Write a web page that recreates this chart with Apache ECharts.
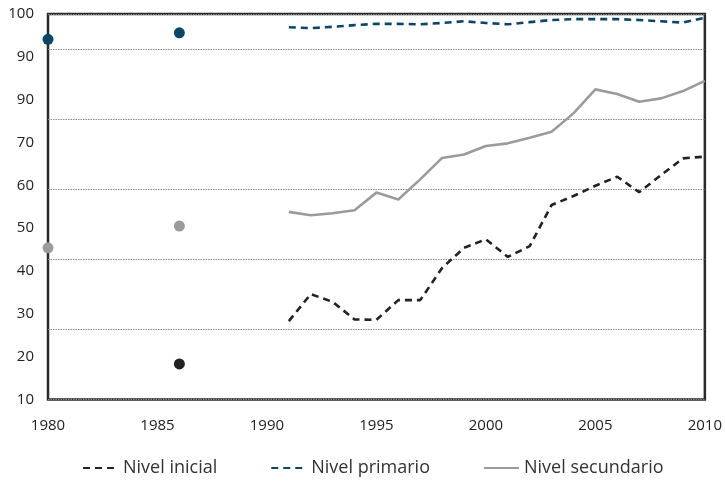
<!DOCTYPE html>
<html><head><meta charset="utf-8">
<script src="https://cdn.jsdelivr.net/npm/echarts@6/dist/echarts.min.js"></script>
<style>html,body{margin:0;padding:0;background:#fff}#c{width:725px;height:484px}</style>
</head><body><div id="c"></div>
<script>
const years = [1991,1992,1993,1994,1995,1996,1997,1998,1999,2000,2001,2002,2003,2004,2005,2006,2007,2008,2009,2010];
const inicial = [28.3,34.6,32.8,28.7,28.6,33.2,33.2,40.7,45.4,47.4,43.3,45.8,55.4,57.5,59.9,62.0,58.4,62.4,66.3,66.7];
const primario = [96.9,96.7,97.0,97.4,97.7,97.7,97.6,97.9,98.3,97.9,97.6,98.1,98.6,98.8,98.8,98.8,98.6,98.3,98.0,99.1];
const secundario = [53.8,53.0,53.5,54.2,58.3,56.7,61.4,66.4,67.2,69.2,69.8,71.1,72.5,76.8,82.4,81.3,79.5,80.3,82.0,84.4];
const earlyYears = [1980,1986];
const inicialEarly = [null,18.3];
const primarioEarly = [94.1,95.6];
const secundarioEarly = [45.4,50.5];
const yTickLabels = ['10','20','30','40','50','60','70','90','90','100'];
const xTickLabels = ['1980','1985','1990','1995','2000','2005','2010'];
const names = ['Nivel inicial','Nivel primario','Nivel secundario'];

const cBlack = '#222222', cBlue = '#0c4666', cGrey = '#9b9b9b';
const pair = (xs, ys) => xs.map((x,i)=>[x, ys[i]]).filter(p=>p[1]!==null);
const font = "'Open Sans', 'Noto Sans', sans-serif";

const chart = echarts.init(document.getElementById('c'));
chart.setOption({
  animation:false,
  textStyle:{fontFamily:font},
  grid:{left:48,right:15,top:14,bottom:84.5,show:true,borderColor:'#2a2a2a',borderWidth:2.5,backgroundColor:'transparent'},
  legend:{
    data:names, top:454, left:77, itemWidth:35, itemHeight:12, itemGap:53,
    itemStyle:{color:'rgba(0,0,0,0)',borderColor:'rgba(0,0,0,0)',borderWidth:0,opacity:0},
    textStyle:{fontSize:18,color:'#333',fontFamily:font}
  },
  xAxis:{type:'value',min:1980,max:2010,interval:5,
    axisLine:{show:false},axisTick:{show:false},splitLine:{show:false},
    axisLabel:{margin:19,fontSize:15,color:'#222',formatter:(v)=>{const i=(v-1980)/5;return xTickLabels[i]||'';}}},
  yAxis:[
    {type:'value',min:10,max:100,interval:10,
      axisLine:{show:false},axisTick:{show:false},splitLine:{show:false},
      axisLabel:{margin:14,fontSize:15,color:'#222',formatter:(v)=>{const i=Math.round((v-10)/10);return yTickLabels[i]||'';}}},
    {type:'value',min:0,max:5.507,interval:1,show:true,position:'right',
      axisLine:{show:false},axisTick:{show:false},axisLabel:{show:false},
      splitLine:{show:true,lineStyle:{color:'#8c8c8c',width:1,type:[1.5,1]}}}
  ],
  series:[
    {name:names[0],type:'line',data:pair(years,inicial),symbol:'none',z:3,
      lineStyle:{color:cBlack,width:2.6,type:[7,5]},itemStyle:{color:cBlack}},
    {name:names[1],type:'line',data:pair(years,primario),symbol:'none',z:3,
      lineStyle:{color:cBlue,width:2.6,type:[7,5]},itemStyle:{color:cBlue}},
    {name:names[2],type:'line',data:pair(years,secundario),symbol:'none',z:3,
      lineStyle:{color:cGrey,width:2.6},itemStyle:{color:cGrey}},
    {name:'i0',type:'scatter',data:pair(earlyYears,inicialEarly),symbolSize:11,itemStyle:{color:cBlack,opacity:1},z:4},
    {name:'p0',type:'scatter',data:pair(earlyYears,primarioEarly),symbolSize:11,itemStyle:{color:cBlue,opacity:1},z:4},
    {name:'s0',type:'scatter',data:pair(earlyYears,secundarioEarly),symbolSize:11,itemStyle:{color:cGrey,opacity:1},z:4}
  ]
});
</script></body></html>
